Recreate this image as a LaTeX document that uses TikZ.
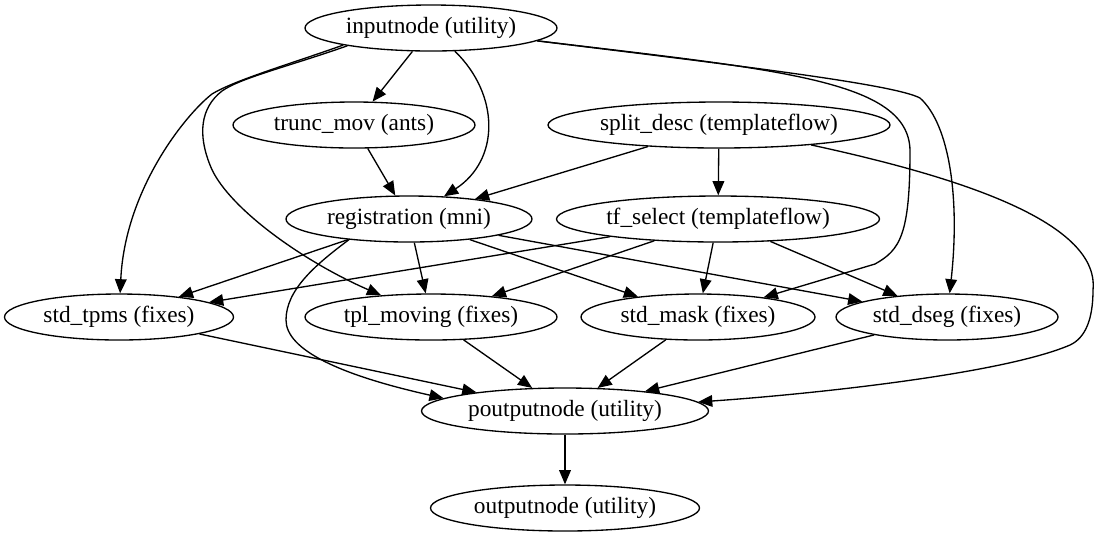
\documentclass[tikz,border=0pt]{standalone}
\usepackage{fontspec}
\setmainfont{Liberation Serif}
\usetikzlibrary{shapes.geometric,arrows.meta}
\begin{document}
\begin{tikzpicture}[x=0.6pt,y=-0.6pt,
  nd/.style={ellipse,draw,line width=0.8pt,inner sep=0pt,minimum height=27.6pt,font=\fontsize{14}{16}\selectfont},
  arr/.style={line width=0.8pt,-{Triangle[length=8.5pt,width=7pt]}}]
\useasboundingbox (0,0) rectangle (1099,539);
\node[nd,minimum width=151.2pt] (in) at (431,28) {inputnode (utility)};
\node[nd,minimum width=145.2pt] (tm) at (354,125) {trunc\_mov (ants)};
\node[nd,minimum width=205.2pt] (sd) at (719,125) {split\_desc (templateflow)};
\node[nd,minimum width=147.6pt] (reg) at (409,219) {registration (mni)};
\node[nd,minimum width=193.8pt] (tf) at (718,219) {tf\_select (templateflow)};
\node[nd,minimum width=137.4pt] (tp) at (119,317) {std\_tpms (fixes)};
\node[nd,minimum width=151.2pt] (tpl) at (431,317) {tpl\_moving (fixes)};
\node[nd,minimum width=140.4pt] (sm) at (698,317) {std\_mask (fixes)};
\node[nd,minimum width=133.2pt] (ds) at (947,317) {std\_dseg (fixes)};
\node[nd,minimum width=172.2pt] (po) at (565,411) {poutputnode (utility)};
\node[nd,minimum width=161.4pt] (out) at (565,508) {outputnode (utility)};
% inputnode edges
\draw[arr] (in) -- (tm);
\draw[arr] (in) .. controls (500,95) and (500,160) .. (reg);
\draw[arr] (in.191) .. controls (290,64) and (235,80) .. (212,94) .. controls (185,115) and (125,190) .. (tp);
\draw[arr] (in.192) .. controls (290,66) and (240,78) .. (222,91) .. controls (200,108) and (198,135) .. (210,165) .. controls (225,205) and (300,260) .. (tpl);
\draw[arr] (in) .. controls (780,70) and (908,80) .. (910,150) .. controls (910,235) and (900,250) .. (875,264) -- (sm);
\draw[arr] (in) .. controls (760,68) and (895,85) .. (920,98) .. controls (950,125) and (960,200) .. (ds);
% split_desc
\draw[arr] (sd) -- (reg);
\draw[arr] (sd) -- (tf);
\draw[arr] (sd) .. controls (950,175) and (1100,220) .. (1093,290) .. controls (1093,320) and (1085,338) .. (1070,345) .. controls (1000,375) and (800,395) .. (po);
% trunc_mov
\draw[arr] (tm) -- (reg);
% registration
\draw[arr] (reg) -- (tp);
\draw[arr] (reg) -- (tpl);
\draw[arr] (reg) -- (sm);
\draw[arr] (reg) -- (ds);
\draw[arr] (reg.199) .. controls (315,265) and (286,290) .. (286,320) .. controls (286,350) and (340,375) .. (po.174);
% tf_select
\draw[arr] (tf) -- (tp);
\draw[arr] (tf) -- (tpl);
\draw[arr] (tf) -- (sm);
\draw[arr] (tf) -- (ds);
% to poutputnode
\draw[arr] (tp) -- (po);
\draw[arr] (tpl) -- (po);
\draw[arr] (sm) -- (po);
\draw[arr] (ds) -- (po);
\draw[arr] (po) -- (out);
\end{tikzpicture}
\end{document}
